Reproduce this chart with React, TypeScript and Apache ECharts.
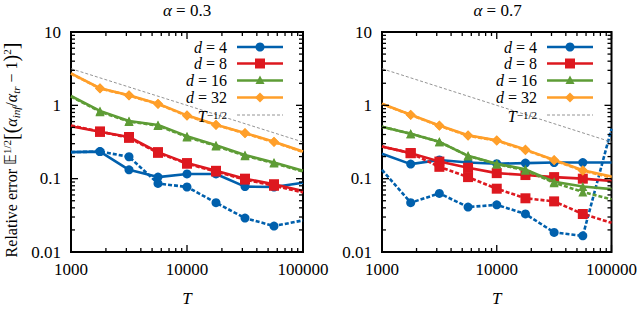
import React, { useEffect, useRef } from 'react';
import * as echarts from 'echarts';

// x positions (T)
const T = [1000, 1778, 3162, 5623, 10000, 17783, 31623, 56234, 100000];
// reference slope T^{-1/2}
const refT = [1000, 100000];
const refVals = [3.16, 0.316];

// tick values
const xMajorTicks = [1000, 10000, 100000];
const xMinorTicks = [2000, 3000, 4000, 5000, 6000, 7000, 8000, 9000, 20000, 30000, 40000, 50000, 60000, 70000, 80000, 90000];
const yMajorTicks = [0.01, 0.1, 1, 10];
const yMinorTicks = [0.02, 0.03, 0.04, 0.05, 0.06, 0.07, 0.08, 0.09, 0.2, 0.3, 0.4, 0.5, 0.6, 0.7, 0.8, 0.9, 2, 3, 4, 5, 6, 7, 8, 9];

const panelTitles = ['0.3', '0.7'];
const legendLabels = ['4', '8', '16', '32'];

// alpha = 0.3
const a3_d4 = [0.23, 0.234, 0.132, 0.105, 0.116, 0.116, 0.078, 0.077, 0.088];
const a3_d4_dash = [0.23, 0.234, 0.199, 0.086, 0.077, 0.047, 0.029, 0.0226, 0.027];
const a3_d8 = [0.52, 0.435, 0.37, 0.23, 0.163, 0.128, 0.1, 0.084, 0.068];
const a3_d8_dash = [0.53, 0.44, 0.36, 0.225, 0.16, 0.125, 0.097, 0.08, 0.065];
const a3_d16 = [1.34, 0.84, 0.61, 0.54, 0.38, 0.285, 0.21, 0.166, 0.128];
const a3_d16_dash = [1.32, 0.82, 0.6, 0.53, 0.37, 0.28, 0.205, 0.163, 0.125];
const a3_d32 = [2.72, 1.71, 1.37, 1.05, 0.73, 0.545, 0.42, 0.318, 0.234];
const a3_d32_dash = [2.7, 1.7, 1.36, 1.04, 0.72, 0.54, 0.415, 0.315, 0.232];

// alpha = 0.7
const a7_d4 = [0.219, 0.158, 0.18, 0.166, 0.16, 0.163, 0.166, 0.166, 0.166];
const a7_d4_dash = [0.132, 0.047, 0.063, 0.041, 0.044, 0.033, 0.0185, 0.0166, 0.48];
const a7_d8 = [0.274, 0.223, 0.171, 0.141, 0.119, 0.112, 0.105, 0.1, 0.093];
const a7_d8_dash = [0.274, 0.223, 0.145, 0.105, 0.073, 0.054, 0.049, 0.033, 0.025];
const a7_d16 = [0.51, 0.41, 0.318, 0.205, 0.16, 0.134, 0.091, 0.078, 0.072];
const a7_d16_dash = [0.51, 0.41, 0.318, 0.205, 0.158, 0.13, 0.088, 0.066, 0.052];
const a7_d32 = [1.05, 0.745, 0.53, 0.39, 0.333, 0.249, 0.18, 0.13, 0.107];
const a7_d32_dash = [1.04, 0.74, 0.525, 0.385, 0.33, 0.245, 0.178, 0.128, 0.104];

const COLORS = ['#0060ad', '#dd181f', '#5e9c36', '#ff9f2a'];
const SYMBOLS = ['circle', 'rect', 'triangle', 'diamond'];
const SIZES = [9, 10, 9, 10];
const FONT = "'Liberation Serif', 'Times New Roman', serif";

const panels = [
  [[a3_d4, a3_d4_dash], [a3_d8, a3_d8_dash], [a3_d16, a3_d16_dash], [a3_d32, a3_d32_dash]],
  [[a7_d4, a7_d4_dash], [a7_d8, a7_d8_dash], [a7_d16, a7_d16_dash], [a7_d32, a7_d32_dash]],
];

const GRIDS = [
  { left: 71, top: 32, width: 232, height: 234 },
  { left: 382, top: 32, width: 231, height: 234 },
];

function fmt(v: number) {
  return String(Number(v.toPrecision(6)));
}

function lineSeries(g: number, vals: number[], k: number, dashed: boolean, z: number) {
  return {
    type: 'line',
    xAxisIndex: g,
    yAxisIndex: g,
    silent: true,
    clip: true,
    z,
    symbol: SYMBOLS[k],
    symbolSize: SIZES[k],
    showAllSymbol: true,
    data: T.map((t, i) => ({
      value: [t, vals[i]],
      symbol: i === 0 || i === T.length - 1 ? 'none' : SYMBOLS[k],
    })),
    lineStyle: { color: COLORS[k], width: 2.6, type: dashed ? [4, 2] : 'solid' },
    itemStyle: { color: COLORS[k] },
  };
}

function tickSeries(g: number) {
  const data: number[][] = [];
  xMajorTicks.forEach((v) => data.push([v, 1, 0, 1]));
  xMinorTicks.forEach((v) => data.push([v, 1, 0, 0]));
  yMajorTicks.forEach((v) => data.push([1000, v, 1, 1]));
  yMinorTicks.forEach((v) => data.push([1000, v, 1, 0]));
  return {
    type: 'custom',
    coordinateSystem: 'cartesian2d',
    xAxisIndex: g,
    yAxisIndex: g,
    silent: true,
    z: 20,
    encode: { x: 0, y: 1 },
    data,
    renderItem: (params: any, api: any) => {
      const cs = params.coordSys;
      const axis = api.value(2);
      const len = api.value(3) ? 7 : 4;
      const p = api.coord([api.value(0), api.value(1)]);
      const st = { stroke: '#000', lineWidth: 1.3 };
      if (axis === 0) {
        const x = p[0];
        return {
          type: 'group',
          children: [
            { type: 'line', shape: { x1: x, y1: cs.y + cs.height, x2: x, y2: cs.y + cs.height - len }, style: st },
            { type: 'line', shape: { x1: x, y1: cs.y, x2: x, y2: cs.y + len }, style: st },
          ],
        };
      }
      const y = p[1];
      return {
        type: 'group',
        children: [
          { type: 'line', shape: { x1: cs.x, y1: y, x2: cs.x + len, y2: y }, style: st },
          { type: 'line', shape: { x1: cs.x + cs.width, y1: y, x2: cs.x + cs.width - len, y2: y }, style: st },
        ],
      };
    },
  };
}

function markerGraphic(k: number, cx: number, cy: number) {
  const color = COLORS[k];
  if (k === 0) return { type: 'circle', shape: { cx, cy, r: 4.5 }, style: { fill: color } };
  if (k === 1) return { type: 'rect', shape: { x: cx - 5, y: cy - 5, width: 10, height: 10 }, style: { fill: color } };
  if (k === 2)
    return { type: 'polygon', shape: { points: [[cx, cy - 5], [cx + 4.5, cy + 3.5], [cx - 4.5, cy + 3.5]] }, style: { fill: color } };
  return { type: 'polygon', shape: { points: [[cx, cy - 5], [cx + 5, cy], [cx, cy + 5], [cx - 5, cy]] }, style: { fill: color } };
}

const richStyles = {
  n: { fontFamily: FONT, fontSize: 16, color: '#000', lineHeight: 14, verticalAlign: 'middle' },
  i: { fontFamily: FONT, fontSize: 16, fontStyle: 'italic', color: '#000', lineHeight: 14, verticalAlign: 'middle' },
  sup: { fontFamily: FONT, fontSize: 11, color: '#000', lineHeight: 6, verticalAlign: 'top' },
};

function legendGraphics(g: number) {
  const R = GRIDS[g].left + GRIDS[g].width;
  const ys = [47, 63.5, 80.5, 97.5];
  const out: any[] = [];
  legendLabels.forEach((lab, k) => {
    const y = ys[k];
    out.push({
      type: 'text',
      x: R - 76,
      y,
      z: 30,
      style: { text: `{i|d}{n| = ${lab}}`, rich: richStyles, align: 'right', verticalAlign: 'middle' },
    });
    out.push({ type: 'line', z: 30, shape: { x1: R - 66, y1: y, x2: R - 20, y2: y }, style: { stroke: COLORS[k], lineWidth: 2.6 } });
    out.push({ ...markerGraphic(k, R - 43, y), z: 31 });
  });
  out.push({
    type: 'text',
    x: R - 76,
    y: 116,
    z: 30,
    style: { text: '{i|T}{sup|−1/2}', rich: richStyles, align: 'right', verticalAlign: 'middle' },
  });
  out.push({
    type: 'line',
    z: 30,
    shape: { x1: R - 66, y1: 115, x2: R - 20, y2: 115 },
    style: { stroke: '#888', lineWidth: 0.9, lineDash: [3, 2] },
  });
  return out;
}

export default function App() {
  const ref = useRef<HTMLDivElement>(null);
  useEffect(() => {
    if (!ref.current) return;
    const chart = echarts.init(ref.current, undefined, { renderer: 'svg' });
    const series: any[] = [];
    panels.forEach((panel, g) => {
      panel.forEach((pair, k) => {
        series.push(lineSeries(g, pair[0], k, false, 2 + k * 2));
        series.push(lineSeries(g, pair[1], k, true, 3 + k * 2));
      });
      series.push({
        type: 'line',
        xAxisIndex: g,
        yAxisIndex: g,
        silent: true,
        symbol: 'none',
        z: 12,
        data: refT.map((t, i) => [t, refVals[i]]),
        lineStyle: { color: '#888', width: 0.9, type: [3, 2] },
      });
      series.push(tickSeries(g));
    });

    const graphic: any[] = [];
    GRIDS.forEach((gr, g) => {
      graphic.push({
        type: 'text',
        x: gr.left + gr.width / 2,
        y: 10,
        style: {
          text: `{i|α}{n| = ${panelTitles[g]}}`,
          rich: {
            n: { fontFamily: FONT, fontSize: 17, color: '#000' },
            i: { fontFamily: FONT, fontSize: 17, fontStyle: 'italic', color: '#000' },
          },
          align: 'center',
          verticalAlign: 'middle',
        },
      });
      graphic.push(...legendGraphics(g));
    });
    const ax = {
      n: { fontFamily: FONT, fontSize: 16, color: '#000', lineHeight: 20, verticalAlign: 'middle' },
      i: { fontFamily: FONT, fontSize: 16, fontStyle: 'italic', color: '#000', lineHeight: 20, verticalAlign: 'middle' },
      bb: { fontFamily: 'DejaVu Sans', fontSize: 15, color: '#000', lineHeight: 20, verticalAlign: 'middle' },
      sup: { fontFamily: FONT, fontSize: 11, color: '#000', lineHeight: 10, verticalAlign: 'top' },
      sub: { fontFamily: FONT, fontSize: 11, fontStyle: 'italic', color: '#000', lineHeight: 10, verticalAlign: 'bottom' },
      big: { fontFamily: FONT, fontSize: 20, color: '#000', lineHeight: 20, verticalAlign: 'middle' },
    };
    graphic.push({
      type: 'text',
      x: 11,
      y: 150,
      rotation: Math.PI / 2,
      style: {
        text: '{n|Relative error }{bb|𝔼}{sup|1/2}{big|[(}{i|α}{sub|inf}{n|/}{i|α}{sub|tr}{n| − 1}{big|)}{sup|2}{big|]}',
        rich: ax,
        align: 'center',
        verticalAlign: 'middle',
      },
    });

    chart.setOption({
      animation: false,
      backgroundColor: '#fff',
      grid: GRIDS.map((g) => ({ ...g, show: true, borderColor: '#000', borderWidth: 2, backgroundColor: 'transparent' })),
      xAxis: GRIDS.map((_, g) => ({
        type: 'log',
        logBase: 10,
        gridIndex: g,
        min: 1000,
        max: 100000,
        name: 'T',
        nameLocation: 'middle',
        nameGap: 38,
        nameTextStyle: { fontFamily: FONT, fontStyle: 'italic', fontSize: 17, color: '#000' },
        axisLine: { show: false },
        axisTick: { show: false },
        splitLine: { show: false },
        minorTick: { show: false },
        axisLabel: { fontFamily: FONT, fontSize: 17, color: '#000', margin: 9, formatter: (v: number) => fmt(v) },
      })),
      yAxis: GRIDS.map((_, g) => ({
        type: 'log',
        logBase: 10,
        gridIndex: g,
        min: 0.01,
        max: 10,
        axisLine: { show: false },
        axisTick: { show: false },
        splitLine: { show: false },
        minorTick: { show: false },
        axisLabel: { fontFamily: FONT, fontSize: 17, color: '#000', margin: 10, formatter: (v: number) => fmt(v) },
      })),
      graphic,
      series,
    });
    return () => chart.dispose();
  }, []);
  return <div ref={ref} style={{ position: 'fixed', left: 0, top: 0, width: 640, height: 312 }} />;
}
